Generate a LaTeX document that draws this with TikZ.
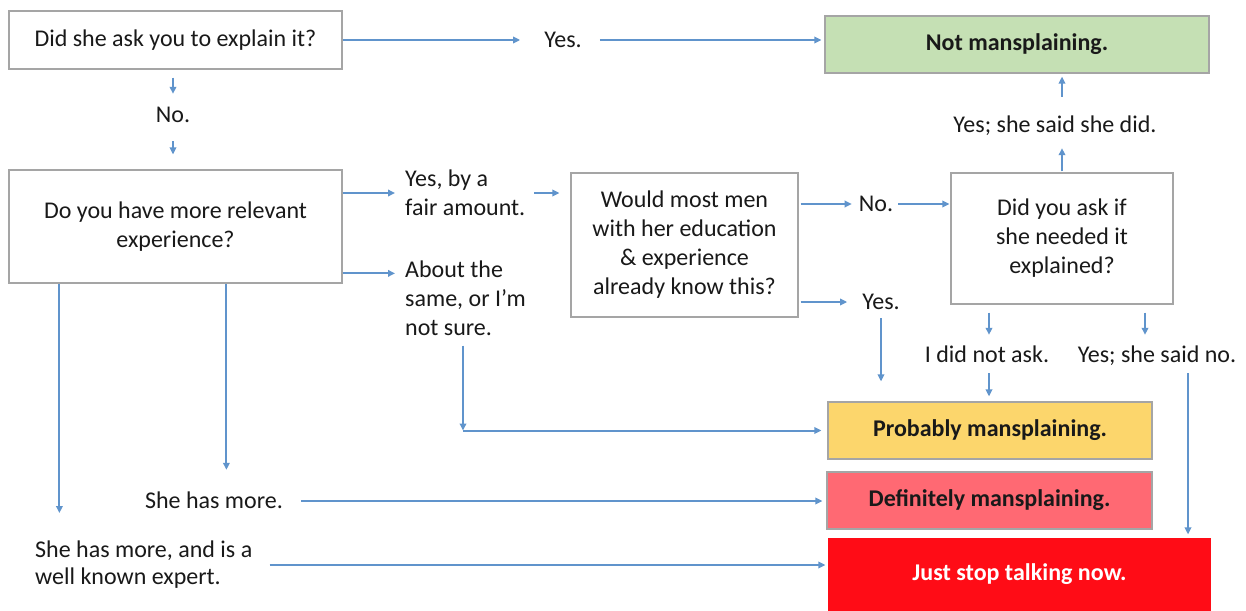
\documentclass[tikz,border=0pt]{standalone}
\usepackage{fontspec}
\setmainfont{Carlito}
\usetikzlibrary{arrows.meta,calc}
\definecolor{arrowblue}{RGB}{96,148,204}
\definecolor{boxgray}{RGB}{165,165,165}
\definecolor{txt}{RGB}{25,25,25}
\definecolor{notgreen}{RGB}{197,224,180}
\definecolor{probyellow}{RGB}{252,214,108}
\definecolor{defpink}{RGB}{255,105,115}
\definecolor{stopred}{RGB}{255,12,22}
\begin{document}
\begin{tikzpicture}[x=1pt,y=-1pt,
  every node/.style={font=\fontsize{24}{29}\selectfont, text=txt},
  box/.style={draw=boxgray, line width=1.2pt, fill=white, align=center, inner sep=0pt},
  lbl/.style={inner sep=0pt, text height=15pt, text depth=0pt},
  mlbl/.style={inner sep=0pt, align=left},
  arr/.style={draw=arrowblue, line width=2pt, -{Triangle[length=7pt,width=6.5pt]}}]
\useasboundingbox[fill=white] (0,0) rectangle (1246,610);

% boxes
\node[box, minimum width=333pt, minimum height=58pt] (b1) at (175.5,40) {Did she ask you to explain it?};
\node[box, fill=notgreen, minimum width=384pt, minimum height=57pt] (notm) at (1017,44.5) {\bfseries Not mansplaining.};
\node[box, minimum width=333pt, minimum height=113pt] (b2) at (175.5,226.5) {Do you have more relevant\\experience?};
\node[box, minimum width=227pt, minimum height=144pt] (b3) at (684.5,245) {Would most men\\with her education\\\& experience\\already know this?};
\node[box, minimum width=222pt, minimum height=131pt] (b4) at (1062,238.5) {Did you ask if\\she needed it\\explained?};
\node[box, fill=probyellow, minimum width=324pt, minimum height=57pt] (prob) at (990,430.5) {\bfseries Probably mansplaining.};
\node[box, fill=defpink, minimum width=325pt, minimum height=57pt] (def) at (989.5,500.5) {\bfseries Definitely mansplaining.};
\node[box, fill=stopred, draw=stopred, text=white, minimum width=381pt, minimum height=71pt] (stop) at (1019.5,574.5) {\bfseries Just stop talking now.};

% labels
\node[lbl] (yes1) at (563,40) {Yes.};
\node[lbl] (no1) at (173,115) {No.};
\node[mlbl, anchor=west] (yfa) at (405,193) {Yes, by a\\fair amount.};
\node[mlbl, anchor=west] (ats) at (405,298) {About the\\same, or I’m\\not sure.};
\node[lbl] (no2) at (876,204) {No.};
\node[lbl] (ysd) at (1055,125) {Yes; she said she did.};
\node[lbl] (yes2) at (881,302) {Yes.};
\node[lbl] (dna) at (987,355) {I did not ask.};
\node[lbl] (ysn) at (1157,355) {Yes; she said no.};
\node[lbl] (shm) at (214,501) {She has more.};
\node[mlbl, anchor=west, font=\fontsize{24}{27}\selectfont] (shmx) at (35,565) {She has more, and is a\\well known expert.};

% helper coordinates
\coordinate (aw) at ([yshift=-13pt]ats.north west);
\coordinate (atsx) at ([xshift=58pt]ats.south west);
\coordinate (corner) at (atsx |- prob.west);
\coordinate (c1) at ([xshift=51pt]b2.south west);
\coordinate (c2) at ([xshift=218pt]b2.south west);
\coordinate (dnax) at ([xshift=2pt]dna.north);
\coordinate (dnay) at ([xshift=2pt]dna.south);
\coordinate (ysnx) at ([xshift=-12pt]ysn.north);
\coordinate (ysny) at ([xshift=31pt]ysn.south);

% connectors
\draw[arr, shorten >=24pt] (b1.east) -- (yes1.west);
\draw[arr, shorten <=18pt, shorten >=3pt] (yes1.east) -- (yes1.east -| notm.west);
\draw[arr, shorten <=8pt, shorten >=13.5pt] (no1.north |- b1.south) -- (no1.north);
\draw[arr, shorten <=18.5pt, shorten >=15pt] (no1.south) -- (no1.south |- b2.north);
\draw[arr, shorten >=10pt] (b2.east |- yfa.west) -- (yfa.west);
\draw[arr, shorten >=10pt] (b2.east |- aw) -- (aw);
\draw[arr, shorten <=9pt, shorten >=11pt] (yfa.east) -- (yfa.east -| b3.west);
\draw[arr, shorten <=2pt, shorten >=7pt] (b3.east |- no2.west) -- (no2.west);
\draw[arr, shorten <=5pt, shorten >=1pt] (no2.east) -- (no2.east -| b4.west);
\draw[arr, shorten <=1pt, shorten >=15.5pt] (b4.north) -- (b4.north |- ysd.south);
\draw[arr, shorten <=20.5pt, shorten >=3pt] (b4.north |- ysd.north) -- (b4.north |- notm.south);
\draw[arr, shorten <=2pt, shorten >=15pt] (b3.east |- yes2.west) -- (yes2.west);
\draw[arr, shorten <=8.5pt, shorten >=20pt] (yes2.south) -- (yes2.south |- prob.north);
\draw[arr, shorten <=8pt, shorten >=12.5pt] (dnax |- b4.south) -- (dnax);
\draw[arr, shorten <=10.5pt, shorten >=5pt] (dnay) -- (dnay |- prob.north);
\draw[arr, shorten <=8pt, shorten >=12.5pt] (ysnx |- b4.south) -- (ysnx);
\draw[arr, shorten <=10.5pt, shorten >=4pt] (ysny) -- (ysny |- stop.north);
\draw[arr, shorten <=10pt] (atsx) -- (corner);
\draw[arr, shorten >=6pt] (corner) -- (prob.west);
\draw[arr, shorten >=28pt] (c1) -- (c1 |- shmx.north);
\draw[arr, shorten >=23.5pt] (c2) -- (c2 |- shm.north);
\draw[arr, shorten <=18pt, shorten >=4pt] (shm.east) -- (shm.east -| def.west);
\draw[arr, shorten <=17pt, shorten >=3pt] (shmx.east) -- (shmx.east -| stop.west);
\end{tikzpicture}
\end{document}
